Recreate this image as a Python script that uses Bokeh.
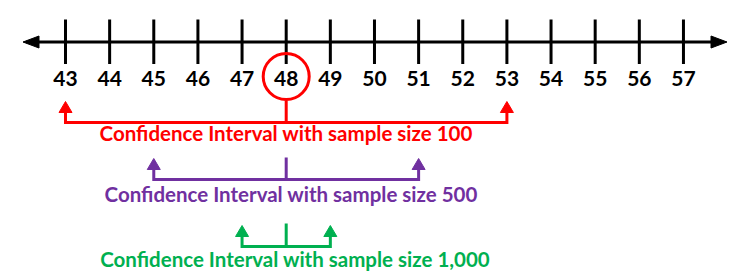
from bokeh.plotting import figure
from bokeh.models import Range1d
from bokeh.core.properties import value
from bokeh.embed import file_html
from bokeh.resources import INLINE

# ---- data ----
ticks = list(range(43, 58))
tick_labels = [str(t) for t in ticks]
sample_mean = 48
sample_sizes = ["100", "500", "1,000"]
ci_low = [43, 45, 47]
ci_high = [53, 51, 49]
ci_colors = ["#FF0000", "#7030A0", "#00B050"]

W, H = 733, 280
PPU = 44.14          # pixels per unit
X0 = 43 - 65 / PPU   # value at left edge

p = figure(width=W, height=H, output_backend="svg", toolbar_location=None,
           x_range=Range1d(X0, X0 + W / PPU), y_range=Range1d(H, 0),
           min_border=0, outline_line_color=None)
p.axis.visible = False
p.grid.visible = False
p.background_fill_color = "white"
p.border_fill_color = "white"

FONT = value("Lato")

def dx(px):
    return px / PPU

# number line
AXY = 41.5
p.line([X0 + dx(26), X0 + dx(722)], [AXY, AXY], line_color="black", line_width=3)
# arrow heads for axis
lt = X0 + dx(22.5)
rt = X0 + dx(726.5)
p.patch([lt, lt + dx(16), lt + dx(16)], [AXY, AXY - 6, AXY + 6], color="black")
p.patch([rt, rt - dx(16), rt - dx(16)], [AXY, AXY - 6, AXY + 6], color="black")
# tick marks
p.segment(x0=ticks, y0=[19] * len(ticks), x1=ticks, y1=[63.5] * len(ticks),
          line_color="black", line_width=3)
p.text(x=ticks, y=[77.5] * len(ticks), text=tick_labels, text_font=FONT,
       text_font_style="bold", text_font_size="21px", text_align="center",
       text_baseline="middle", text_color="black")

# circle around mean
p.scatter(x=[sample_mean], y=[76], marker="circle", size=46,
          fill_color=None, line_color="#FF0000", line_width=3)

# brackets
stem_top = [100, 157, 223]
bar_y = [122, 179, 246]
text_y = [132.5, 193.5, 258.5]
text_dx = [0, 5, 9]
for lo, hi, c, n, st, by, ty, tdx in zip(ci_low, ci_high, ci_colors, sample_sizes,
                                         stem_top, bar_y, text_y, text_dx):
    p.line([sample_mean, sample_mean], [st, by], line_color=c, line_width=3)
    p.line([lo, lo, hi, hi], [by - 12 + 2, by, by, by - 12 + 2], line_color=c,
           line_width=3, line_join="miter")
    tip = by - 21
    for xv in (lo, hi):
        p.patch([xv, xv - dx(6.5), xv + dx(6.5)], [tip, tip + 11, tip + 11], color=c)
    p.text(x=[sample_mean], y=[ty], text=["Confidence Interval with sample size " + n],
           x_offset=tdx,
           text_font=FONT, text_font_style="bold", text_font_size="20.5px",
           text_align="center", text_baseline="middle", text_color=c)

open("out.html", "w").write(file_html(p, INLINE))
